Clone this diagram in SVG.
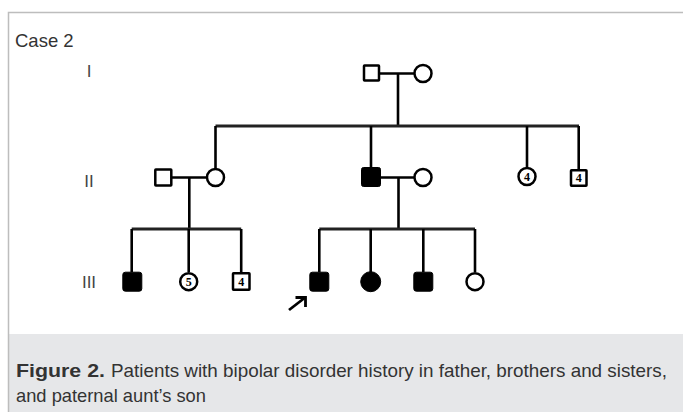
<svg xmlns="http://www.w3.org/2000/svg" width="683" height="412" viewBox="0 0 683 412">
<style>
.txt{font-family:"Liberation Sans",Arial,sans-serif;fill:#333}
.gen{font-family:"Liberation Sans",Arial,sans-serif;fill:#444;font-size:17px;text-anchor:middle}
.sym{fill:#fff;stroke:#000;stroke-width:2.5}
.aff{fill:#000;stroke:#000;stroke-width:1}
.num{font-family:"Liberation Serif","Times New Roman",serif;font-weight:bold;font-size:12px;text-anchor:middle;fill:#000}
.ln{stroke:#000;stroke-width:2.6;fill:none}
.sib{stroke:#222;stroke-width:2.8;fill:none}
</style>
<rect x="0" y="0" width="683" height="412" fill="#fff"/>
<rect x="8" y="334" width="675" height="78" fill="#e6e7e9"/>
<path d="M8.5 412 V12.5 H683" fill="none" stroke="#bdbdbd" stroke-width="1.5"/>

<text class="txt" x="15" y="47" font-size="18.5">Case 2</text>
<text class="gen" x="89" y="77">I</text>
<text class="gen" x="89" y="187">II</text>
<text class="gen" x="89" y="288">III</text>

<g id="connectors">
  <line class="ln" x1="380" y1="73.5" x2="414" y2="73.5"/>
  <line class="ln" x1="398" y1="73.5" x2="398" y2="126"/>
  <line class="sib" x1="215.5" y1="126" x2="579" y2="126"/>
  <line class="ln" x1="215.5" y1="126" x2="215.5" y2="168"/>
  <line class="ln" x1="371" y1="126" x2="371" y2="168"/>
  <line class="ln" x1="527" y1="126" x2="527" y2="167"/>
  <line class="ln" x1="578.7" y1="126" x2="578.7" y2="170"/>
  <line class="ln" x1="172" y1="177.5" x2="206" y2="177.5"/>
  <line class="ln" x1="189.3" y1="177.5" x2="189.3" y2="229"/>
  <line class="ln" x1="380" y1="177.5" x2="414" y2="177.5"/>
  <line class="ln" x1="398.5" y1="177.5" x2="398.5" y2="229"/>
  <line class="sib" x1="131.7" y1="229" x2="241.2" y2="229"/>
  <line class="ln" x1="131.7" y1="229" x2="131.7" y2="272"/>
  <line class="ln" x1="188.7" y1="229" x2="188.7" y2="272"/>
  <line class="ln" x1="241.2" y1="229" x2="241.2" y2="273"/>
  <line class="sib" x1="319.3" y1="229" x2="475" y2="229"/>
  <line class="ln" x1="319.3" y1="229" x2="319.3" y2="272"/>
  <line class="ln" x1="370.7" y1="229" x2="370.7" y2="272"/>
  <line class="ln" x1="423.3" y1="229" x2="423.3" y2="272"/>
  <line class="ln" x1="475" y1="229" x2="475" y2="272"/>
</g>

<g id="I-1"><rect class="sym" x="364" y="65.5" width="15" height="15" rx="0.5"/></g>
<g id="I-2"><circle class="sym" cx="423" cy="73.5" r="8.5"/></g>

<g id="II-1"><rect class="sym" x="155.3" y="169.5" width="16" height="16" rx="0.5"/></g>
<g id="II-2"><circle class="sym" cx="215.5" cy="177.5" r="8.5"/></g>
<g id="II-3"><rect class="aff" x="361.5" y="167.5" width="19" height="19" rx="2"/></g>
<g id="II-4"><circle class="sym" cx="423" cy="177.5" r="8.5"/></g>
<g id="II-5"><circle class="sym" cx="527" cy="176.5" r="8.5"/><text class="num" x="527" y="180.8">4</text></g>
<g id="II-6"><rect class="sym" x="571" y="170.3" width="15.5" height="15.5" rx="0.5"/><text class="num" x="578.7" y="182.3">4</text></g>

<g id="III-1"><rect class="aff" x="122.8" y="272.2" width="19" height="19" rx="2.5"/></g>
<g id="III-2"><circle class="sym" cx="188.7" cy="281.7" r="8.5"/><text class="num" x="188.7" y="286">5</text></g>
<g id="III-3"><rect class="sym" x="233" y="273.3" width="16.5" height="16.5" rx="0.5"/><text class="num" x="241.2" y="285.8">4</text></g>
<g id="III-4"><rect class="aff" x="309.8" y="272.2" width="19" height="19" rx="2.5"/></g>
<g id="III-5"><circle class="aff" cx="370.7" cy="281.7" r="10"/></g>
<g id="III-6"><rect class="aff" x="413.8" y="272.2" width="19" height="19" rx="2.5"/></g>
<g id="III-7"><circle class="sym" cx="475" cy="281.7" r="8.5"/></g>

<g id="proband-arrow">
  <line x1="289" y1="310" x2="304.5" y2="298" stroke="#000" stroke-width="2.8"/>
  <polyline points="295.5,297.5 305.5,297.5 305.5,307" fill="none" stroke="#000" stroke-width="2.8"/>
</g>

<text class="txt" x="16" y="377" font-size="18.5" font-weight="bold" textLength="89" lengthAdjust="spacingAndGlyphs">Figure 2.</text>
<text class="txt" x="111" y="377" font-size="18.5" textLength="556" lengthAdjust="spacingAndGlyphs">Patients with bipolar disorder history in father, brothers and sisters,</text>
<text class="txt" x="16" y="402" font-size="18.5" textLength="190" lengthAdjust="spacingAndGlyphs">and paternal aunt’s son</text>
</svg>
